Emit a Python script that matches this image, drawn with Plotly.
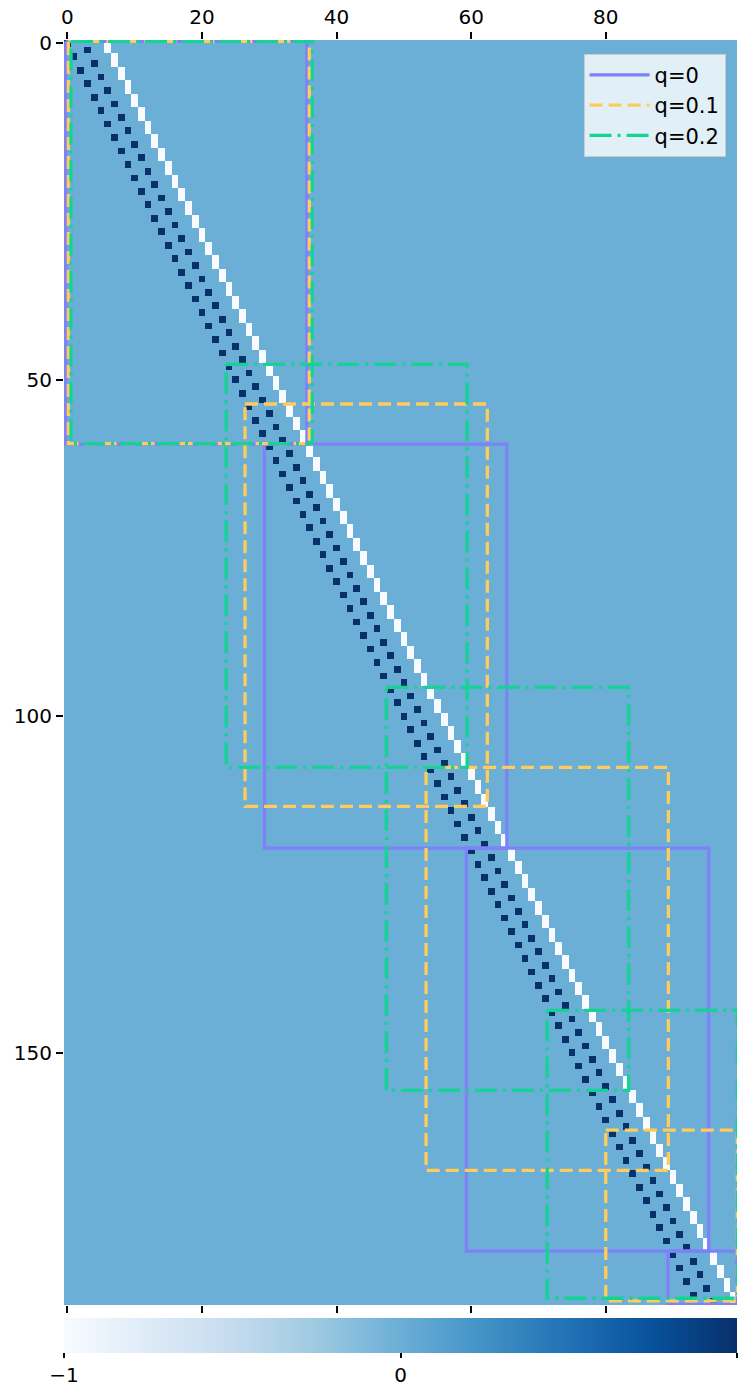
import plotly.graph_objects as go

# ---------------- data ----------------
# Each pair of rows (2k, 2k+1) shares one white (-1) cell column
white_col_by_pair = [6, 7, 8, 9, 10, 11, 12, 13, 14, 15, 16, 17, 18, 19, 20, 21, 22, 23, 24, 25,
                     26, 27, 28, 29, 30, 31, 32, 33, 34, 35, 36, 37, 38, 39, 40, 41, 42, 43, 44, 45,
                     46, 47, 48, 49, 50, 51, 52, 53, 54, 55, 56, 57, 58, 59, 60, 61, 62, 63, 64, 65,
                     66, 67, 68, 69, 70, 71, 72, 73, 74, 75, 76, 77, 78, 79, 80, 81, 82, 83, 84, 85,
                     86, 87, 88, 89, 90, 91, 92, 93, 94, 95, 96, 97, 98, 99]
# Dark (+1) cell column on the even row 2k of each pair
dark_col_even_rows = [0, 1, 2, 3, 4, 5, 6, 7, 8, 9, 10, 11, 12, 13, 14, 15, 16, 17, 18, 19,
                      20, 21, 22, 23, 24, 25, 26, 27, 28, 29, 30, 31, 32, 33, 34, 35, 36, 37, 38, 39,
                      40, 41, 42, 43, 44, 45, 46, 47, 48, 49, 50, 51, 52, 53, 54, 55, 56, 57, 58, 59,
                      60, 61, 62, 63, 64, 65, 66, 67, 68, 69, 70, 71, 72, 73, 74, 75, 76, 77, 78, 79,
                      80, 81, 82, 83, 84, 85, 86, 87, 88, 89, 90, 91, 92, 93]
# Dark (+1) cell column on the odd row 2k+1 of each pair
dark_col_odd_rows = [3, 4, 5, 6, 7, 8, 9, 10, 11, 12, 13, 14, 15, 16, 17, 18, 19, 20, 21, 22,
                     23, 24, 25, 26, 27, 28, 29, 30, 31, 32, 33, 34, 35, 36, 37, 38, 39, 40, 41, 42,
                     43, 44, 45, 46, 47, 48, 49, 50, 51, 52, 53, 54, 55, 56, 57, 58, 59, 60, 61, 62,
                     63, 64, 65, 66, 67, 68, 69, 70, 71, 72, 73, 74, 75, 76, 77, 78, 79, 80, 81, 82,
                     83, 84, 85, 86, 87, 88, 89, 90, 91, 92, 93, 94, 95, 96]
n_rows = 188
n_cols = 100
background_value = 0
white_value = -1
dark_value = 1

# Rectangles (data coordinates) for each q
q_labels = ["q=0", "q=0.1", "q=0.2"]
q0_x0 = [-0.25, 29.3, 59.3, 89.25]
q0_x1 = [35.6, 65.3, 95.3, 99.5]
q0_y0 = [-0.3, 59.55, 119.6, 179.5]
q0_y1 = [59.55, 119.6, 179.5, 187.4]

q1_x0 = [0.15, 26.4, 53.3, 80.0]
q1_x1 = [35.95, 62.4, 89.3, 99.55]
q1_y0 = [-0.3, 53.6, 107.6, 161.5]
q1_y1 = [59.5, 113.4, 167.5, 186.9]

q2_x0 = [0.55, 23.6, 47.4, 71.3]
q2_x1 = [36.4, 59.4, 83.4, 99.55]
q2_y0 = [-0.3, 47.7, 95.7, 143.7]
q2_y1 = [59.5, 107.6, 155.6, 186.5]

x_tick_vals = [0, 20, 40, 60, 80]
y_tick_vals = [0, 50, 100, 150]
cbar_tick_vals = [-1, 0, 1]

# ---------------- build matrix ----------------
z = [[background_value] * n_cols for _ in range(n_rows)]
for k, wc in enumerate(white_col_by_pair):
    r0, r1 = 2 * k, 2 * k + 1
    z[r0][wc] = white_value
    z[r1][wc] = white_value
    z[r0][dark_col_even_rows[k]] = dark_value
    z[r1][dark_col_odd_rows[k]] = dark_value

blues = [
    [0.0, "#f7fbff"], [0.125, "#deebf7"], [0.25, "#c6dbef"], [0.375, "#9ecae1"],
    [0.5, "#6baed6"], [0.625, "#4292c6"], [0.75, "#2171b5"], [0.875, "#08519c"],
    [1.0, "#08306b"],
]

FONT = "DejaVu Sans"
fig = go.Figure()
fig.add_trace(go.Heatmap(
    z=z, colorscale=blues, zmin=-1, zmax=1, hoverinfo="skip",
    colorbar=dict(
        orientation="h", x=0.5, xanchor="center", y=-0.0105, yanchor="top",
        len=1, lenmode="fraction", thickness=35, outlinewidth=0,
        tickvals=cbar_tick_vals, ticks="outside", ticklen=5, tickwidth=1.6,
        tickcolor="black", tickfont=dict(size=20, color="black", family=FONT),
        xpad=0, ypad=0,
    ),
))


def rect_path(x0s, x1s, y0s, y1s):
    xs, ys = [], []
    for a, b, c, d in zip(x0s, x1s, y0s, y1s):
        xs += [a, b, b, a, a, None]
        ys += [c, c, d, d, c, None]
    return xs, ys


styles = [
    dict(color="#8080f8", width=3.3, dash="solid"),
    dict(color="#ffcc5c", width=3.3, dash="13px,6px"),
    dict(color="#14d494", width=3.3, dash="22px,6px,3px,6px"),
]
boxes = [
    (q0_x0, q0_x1, q0_y0, q0_y1),
    (q1_x0, q1_x1, q1_y0, q1_y1),
    (q2_x0, q2_x1, q2_y0, q2_y1),
]
for lab, st, bx in zip(q_labels, styles, boxes):
    xs, ys = rect_path(*bx)
    fig.add_trace(go.Scatter(x=xs, y=ys, mode="lines", name=lab, line=st,
                             hoverinfo="skip"))

# dummy trace for bottom tick axis
fig.add_trace(go.Scatter(x=[None], y=[None], xaxis="x2", showlegend=False,
                         hoverinfo="skip"))

axis_common = dict(showgrid=False, zeroline=False, showline=False, ticks="outside",
                   ticklen=7, tickwidth=1.6, tickcolor="black",
                   tickfont=dict(size=20, color="black", family=FONT))

fig.update_layout(
    width=738, height=1387,
    margin=dict(l=64, r=1, t=40, b=82, pad=0, autoexpand=False),
    paper_bgcolor="white", plot_bgcolor="#6baed6",
    font=dict(family=FONT, size=20, color="black"),
    xaxis=dict(range=[-0.5, 99.5], side="top", tickvals=x_tick_vals, **axis_common),
    xaxis2=dict(range=[-0.5, 99.5], overlaying="x", side="bottom", anchor="y",
                tickvals=x_tick_vals, showticklabels=False, **axis_common),
    yaxis=dict(range=[187.5, -0.5], tickvals=y_tick_vals, **axis_common),
    legend=dict(x=0.983, xanchor="right", y=0.9892, yanchor="top",
                bgcolor="rgba(255,255,255,0.8)", bordercolor="#cccccc", borderwidth=1,
                itemwidth=60,
                font=dict(size=21, family=FONT, color="black")),
    showlegend=True,
)

fig.write_html(
    "out.html",
    config={"displayModeBar": False},
    post_script="document.body.style.margin='0';document.body.style.overflow='hidden';"
                "window.dispatchEvent(new Event('resize'));",
)
